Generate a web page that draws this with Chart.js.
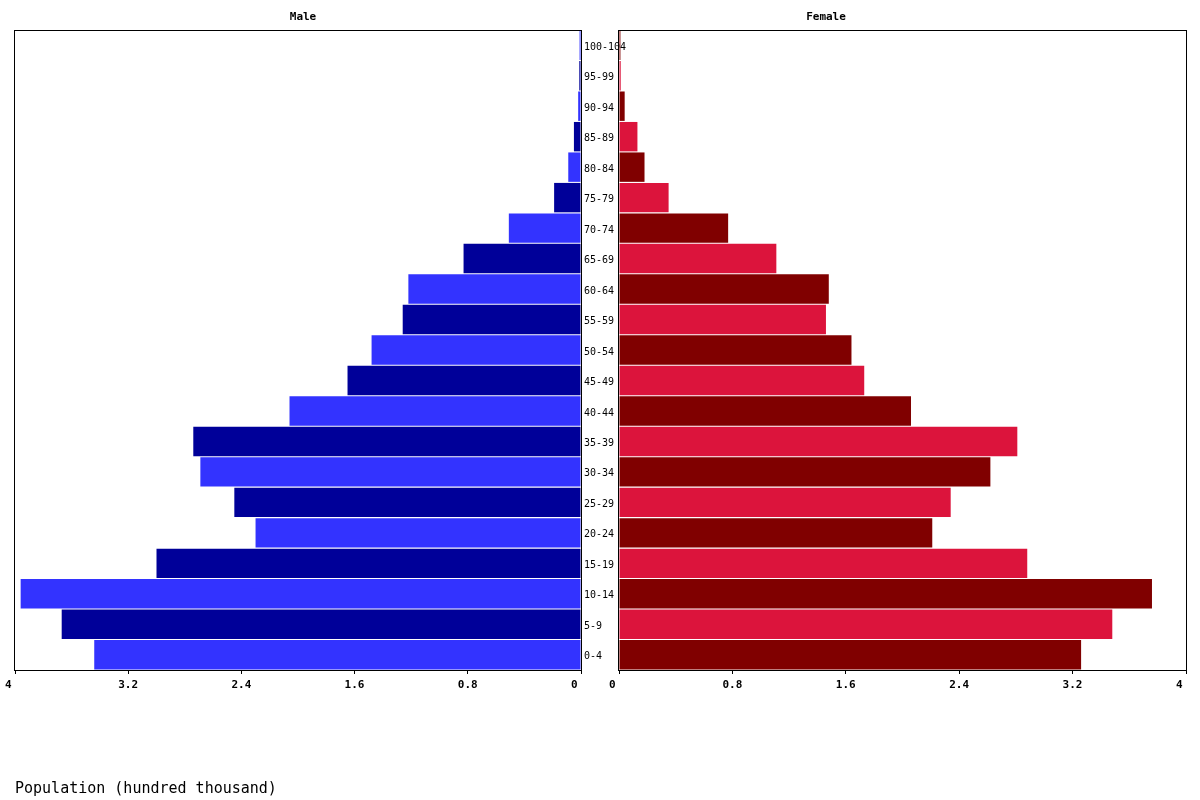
<!DOCTYPE html>
<html lang="en">
<head>
    <meta charset="UTF-8">
    <title>Population pyramid</title>
    <script src="https://cdn.jsdelivr.net/npm/chart.js"></script>
    <style>
        body { margin: 0; background: #fff; }
        .wrap { position: relative; width: 1200px; height: 800px; }
        #maleBox { position: absolute; left: 0; top: 0; width: 640px; height: 800px; }
        #femaleBox { position: absolute; left: 600px; top: 0; width: 600px; height: 800px; }
        .unit { position: absolute; left: 15px; top: 779px; font: 15px "DejaVu Sans Mono", monospace; color: #000; }
    </style>
</head>
<body>
<div class="wrap">
    <div id="femaleBox"><canvas id="femaleChart"></canvas></div>
    <div id="maleBox"><canvas id="maleChart"></canvas></div>
    <div class="unit">Population (hundred thousand)</div>
</div>
<script>
// age groups, bottom to top
const ageGroups = ['0-4', '5-9', '10-14', '15-19', '20-24', '25-29', '30-34', '35-39', '40-44',
    '45-49', '50-54', '55-59', '60-64', '65-69', '70-74', '75-79', '80-84', '85-89', '90-94',
    '95-99', '100-104'];

// hundred thousand
const maleValues = [3.44, 3.67, 3.96, 3.00, 2.30, 2.45, 2.69, 2.74, 2.06, 1.65, 1.48, 1.26,
    1.22, 0.83, 0.51, 0.19, 0.09, 0.05, 0.02, 0.012, 0.01];
const femaleValues = [3.26, 3.48, 3.76, 2.88, 2.21, 2.34, 2.62, 2.81, 2.06, 1.73, 1.64, 1.46,
    1.48, 1.11, 0.77, 0.35, 0.18, 0.13, 0.04, 0.012, 0.01];

const xTicks = [0, 0.8, 1.6, 2.4, 3.2, 4];

const maleColors = ['#3333ff', '#000099'];
const femaleColors = ['#800000', '#dc143c'];

const mono = '"DejaVu Sans Mono", monospace';

// box round the plot area + panel title
const framePlugin = {
    id: 'frame',
    afterLayout(chart) {
        // let the age labels run past the axis box (100-104 overflows in the original)
        const y = chart.scales.y;
        if (y && y.options.display) y.right = y.left + 80;
    },
    afterDraw(chart, args, opts) {
        const a = chart.chartArea;
        const ctx = chart.ctx;
        ctx.save();
        ctx.strokeStyle = '#000';
        ctx.lineWidth = 1;
        ctx.strokeRect(a.left - 0.5, a.top + 0.5, a.right - a.left + 1, a.bottom - a.top);
        ctx.fillStyle = '#000';
        ctx.font = 'bold 11px ' + mono;
        ctx.textAlign = 'center';
        ctx.textBaseline = 'middle';
        ctx.fillText(opts.text, opts.x, 17);
        ctx.restore();
    }
};

function makeConfig(values, colors, title, isMale) {
    return {
        type: 'bar',
        data: {
            labels: ageGroups,
            datasets: [{
                data: values,
                backgroundColor: values.map((v, i) => colors[i % 2]),
                barPercentage: 0.965,
                categoryPercentage: 1
            }]
        },
        options: {
            indexAxis: 'y',
            responsive: false,
            animation: false,
            layout: {
                padding: isMale
                    ? { left: 15, right: 21, top: 30, bottom: 100 }
                    : { left: 19, right: 14, top: 30, bottom: 100 }
            },
            plugins: {
                legend: { display: false },
                tooltip: { enabled: false },
                frame: { text: title, x: isMale ? 303 : 226 }
            },
            scales: {
                x: {
                    reverse: isMale,
                    min: 0,
                    max: 4,
                    afterBuildTicks: s => { s.ticks = xTicks.map(v => ({ value: v })); },
                    afterFit: s => { s.height = 30; },
                    grid: { drawOnChartArea: false, drawTicks: true, tickLength: 4, color: '#000' },
                    border: { display: true, color: '#000' },
                    ticks: {
                        align: 'start',
                        labelOffset: -10,
                        padding: 5,
                        color: '#000',
                        font: { family: mono, size: 11, weight: 'bold' },
                        callback: v => String(v)
                    }
                },
                y: {
                    display: isMale,
                    reverse: true,
                    position: 'right',
                    afterFit: s => { if (isMale) s.width = 38; },
                    grid: { display: false, drawTicks: false, tickLength: 0 },
                    border: { display: true, color: '#000' },
                    ticks: {
                        crossAlign: 'near',
                        padding: 3,
                        labelOffset: 2,
                        color: '#000',
                        autoSkip: false,
                        font: { family: mono, size: 10 }
                    }
                }
            }
        },
        plugins: [framePlugin]
    };
}

function setup(id, w, config) {
    const el = document.getElementById(id);
    el.width = w;
    el.height = 800;
    el.style.width = w + 'px';
    el.style.height = '800px';
    return new Chart(el, config);
}

const maleChart = setup('maleChart', 640, makeConfig(maleValues, maleColors, 'Male', true));
const femaleChart = setup('femaleChart', 600, makeConfig(femaleValues, femaleColors, 'Female', false));
</script>
</body>
</html>
